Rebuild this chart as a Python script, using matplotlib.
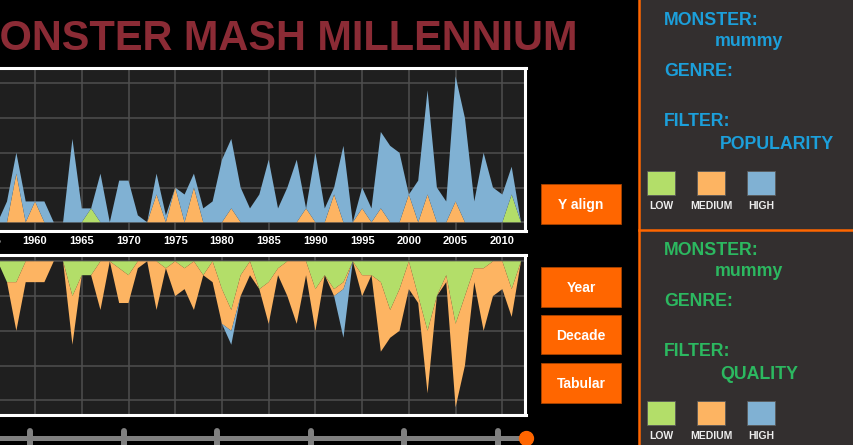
import matplotlib
matplotlib.use('Agg')
import matplotlib.pyplot as plt
from matplotlib.patches import Rectangle
from matplotlib.lines import Line2D

# movie counts per year for the monster "mummy"
years = list(range(1955, 2013))
total = [0, 0, 3, 10, 3,
         3, 3, 0, 0, 12, 2, 2, 7, 0, 6,
         6, 1, 0, 7, 1, 5, 4, 7, 2, 3,
         9, 12, 5, 2, 4, 9, 2, 5, 9, 2,
         10, 2, 5, 11, 0, 5, 2, 13, 11, 10,
         4, 6, 19, 5, 3, 21, 15, 3, 10, 5,
         4, 8, 0]
pop_low = [0, 0, 0, 0, 0,
           0, 0, 0, 0, 0, 0, 2, 0, 0, 0,
           0, 0, 0, 0, 0, 0, 0, 0, 0, 0,
           0, 0, 0, 0, 0, 0, 0, 0, 0, 0,
           0, 0, 0, 0, 0, 0, 0, 0, 0, 0,
           0, 0, 0, 0, 0, 0, 0, 0, 0, 0,
           0, 4, 0]
pop_medium = [0, 0, 0, 7, 0,
              3, 0, 0, 0, 0, 0, 0, 0, 0, 0,
              0, 0, 0, 4, 0, 5, 0, 5, 0, 0,
              0, 2, 0, 0, 0, 0, 0, 0, 0, 2,
              0, 0, 4, 0, 0, 2, 0, 2, 0, 0,
              4, 0, 4, 0, 0, 3, 0, 0, 0, 0,
              0, 0, 0]
qual_low = [0, 0, 3, 3, 0,
            0, 0, 0, 0, 5, 2, 2, 0, 0, 1,
            2, 0, 0, 0, 1, 0, 1, 0, 2, 0,
            4, 7, 2, 0, 4, 3, 1, 0, 0, 0,
            4, 2, 4, 3, 0, 2, 2, 3, 7, 4,
            0, 5, 10, 5, 2, 9, 5, 1, 1, 0,
            0, 4, 0]
qual_high = [0, 0, 0, 0, 0,
             0, 0, 0, 0, 0, 0, 0, 0, 0, 0,
             0, 0, 0, 0, 0, 0, 0, 0, 0, 0,
             0, 2, 0, 0, 0, 0, 0, 0, 0, 0,
             0, 0, 0, 7, 0, 0, 0, 0, 0, 0,
             0, 0, 0, 0, 0, 0, 0, 0, 0, 0,
             0, 0, 0]
pop_high = [t - l - m for t, l, m in zip(total, pop_low, pop_medium)]
qual_medium = [t - l - h for t, l, h in zip(total, qual_low, qual_high)]

decades = [1960, 1970, 1980, 1990, 2000, 2010]
legend_labels = ['LOW', 'MEDIUM', 'HIGH']
buttons = ['Y align', 'Year', 'Decade', 'Tabular']
monster = 'mummy'
title = 'MONSTER MASH MILLENNIUM'

GREEN, ORANGE, BLUE = '#b3de69', '#fdb462', '#80b1d3'
UI_ORANGE = '#ff6600'

plt.rcParams['font.family'] = ['Liberation Sans', 'DejaVu Sans']

W, H = 854, 445
def fx(x): return x / W
def fy(y): return 1 - y / H
def box(x0, y0, x1, y1): return [fx(x0), fy(y1), (x1 - x0) / W, (y1 - y0) / H]

fig = plt.figure(figsize=(8.54, 4.45), dpi=100, facecolor='black')

xlim = (1954.11, 2012.48)

def style(ax):
    ax.set_facecolor('#1f1f1f')
    ax.set_xlim(*xlim)
    ax.set_xticks(range(1955, 2015, 5))
    ax.set_yticks([0, 5, 10, 15, 20])
    ax.set_axisbelow(True)
    ax.grid(True, color='#4e4e4e', lw=1.1)
    ax.tick_params(length=0, labelleft=False)
    for s in ax.spines.values():
        s.set_color('white')
        s.set_linewidth(2.2)

# popularity chart
ax1 = fig.add_axes(box(-20, 68.5, 525.5, 230.5))
style(ax1)
ax1.stackplot(years, pop_low, pop_medium, pop_high, colors=[GREEN, ORANGE, BLUE], lw=0)
ax1.set_ylim(-1.18, 22.13)
ax1.tick_params(axis='x', colors='white', labelsize=8, pad=4)
for lab in ax1.get_xticklabels():
    lab.set_fontweight('bold')

# quality chart (upside down)
ax2 = fig.add_axes(box(-20, 254.5, 525.5, 414.5))
style(ax2)
ax2.stackplot(years, qual_low, qual_medium, qual_high, colors=[GREEN, ORANGE, BLUE], lw=0)
ax2.set_ylim(22.04, -0.98)
ax2.tick_params(labelbottom=False)

# slider
ax3 = fig.add_axes(box(-20, 420, 525.5, 445))
ax3.set_xlim(*xlim)
ax3.set_ylim(445, 420)
ax3.axis('off')
ax3.plot([xlim[0], years[-1] + 0.55], [437.7, 437.7], color='#808080', lw=3.6, clip_on=False)
for d in decades:
    ax3.plot([d - 0.5, d - 0.5], [431, 450], color='#808080', lw=4.3,
             solid_capstyle='round', clip_on=False)
ax3.plot(years[-1] + 0.55, 437.7, 'o', ms=10, color=UI_ORANGE, mec=UI_ORANGE, clip_on=False)

# title: fit so that "ONSTER ... M" spans x 0..578
probe = fig.text(0, 0, title[1:], fontsize=30, fontweight='bold')
fig.canvas.draw()
title_size = 30 * 578 / probe.get_window_extent().width
probe.remove()
fig.text(fx(578), fy(50), title, ha='right', va='baseline',
         fontsize=title_size, fontweight='bold', color='#8b2b35')

# buttons
btn_rows = [(184.3, 224), (267.3, 306.7), (315, 354.3), (362.7, 402.7)]
for name, (y0, y1) in zip(buttons, btn_rows):
    fig.add_artist(Rectangle((fx(541), fy(y1)), fx(621) - fx(541), fy(y0) - fy(y1),
                             transform=fig.transFigure, facecolor=UI_ORANGE,
                             edgecolor='#a84300', lw=0.6))
    fig.text(fx(581), fy((y0 + y1) / 2 + 5), name, ha='center', va='baseline',
             fontsize=10, fontweight='bold', color='white')

# side panels
fig.add_artist(Rectangle((fx(639), 0), 1 - fx(639), 1, transform=fig.transFigure,
                         facecolor='#332f2f', edgecolor='none'))
fig.add_artist(Line2D([fx(639), fx(639)], [0, 1], transform=fig.transFigure,
                      color=UI_ORANGE, lw=1.8))
fig.add_artist(Line2D([fx(639), 1], [fy(230), fy(230)], transform=fig.transFigure,
                      color=UI_ORANGE, lw=1.8))

def panel(off, color, filt):
    kw = dict(fontweight='bold', color=color, va='baseline', fontsize=12.8)
    fig.text(fx(664), fy(24.7 + off), 'MONSTER:', **kw)
    fig.text(fx(715), fy(46.5 + off), monster, **kw)
    fig.text(fx(664), fy(75.7 + off), 'GENRE:', **kw)
    fig.text(fx(664), fy(125.7 + off), 'FILTER:', **kw)
    fig.text(fx(720), fy(149.4 + off), filt, **kw)
    for i, (lab, c) in enumerate(zip(legend_labels, [GREEN, ORANGE, BLUE])):
        x0 = 647 + 50 * i
        fig.add_artist(Rectangle((fx(x0), fy(195 + off)), 28 / W, 24 / H,
                                 transform=fig.transFigure, facecolor=c,
                                 edgecolor='#5a5a5a', lw=0.6))
        fig.text(fx(x0 + 14), fy(208.7 + off), lab, ha='center', va='baseline',
                 fontsize=7.5, fontweight='bold', color='#eeeeee')

panel(0, '#1c9fda', 'POPULARITY')
panel(230, '#2cb860', 'QUALITY')

plt.savefig('out.png', dpi=100, facecolor='black')
